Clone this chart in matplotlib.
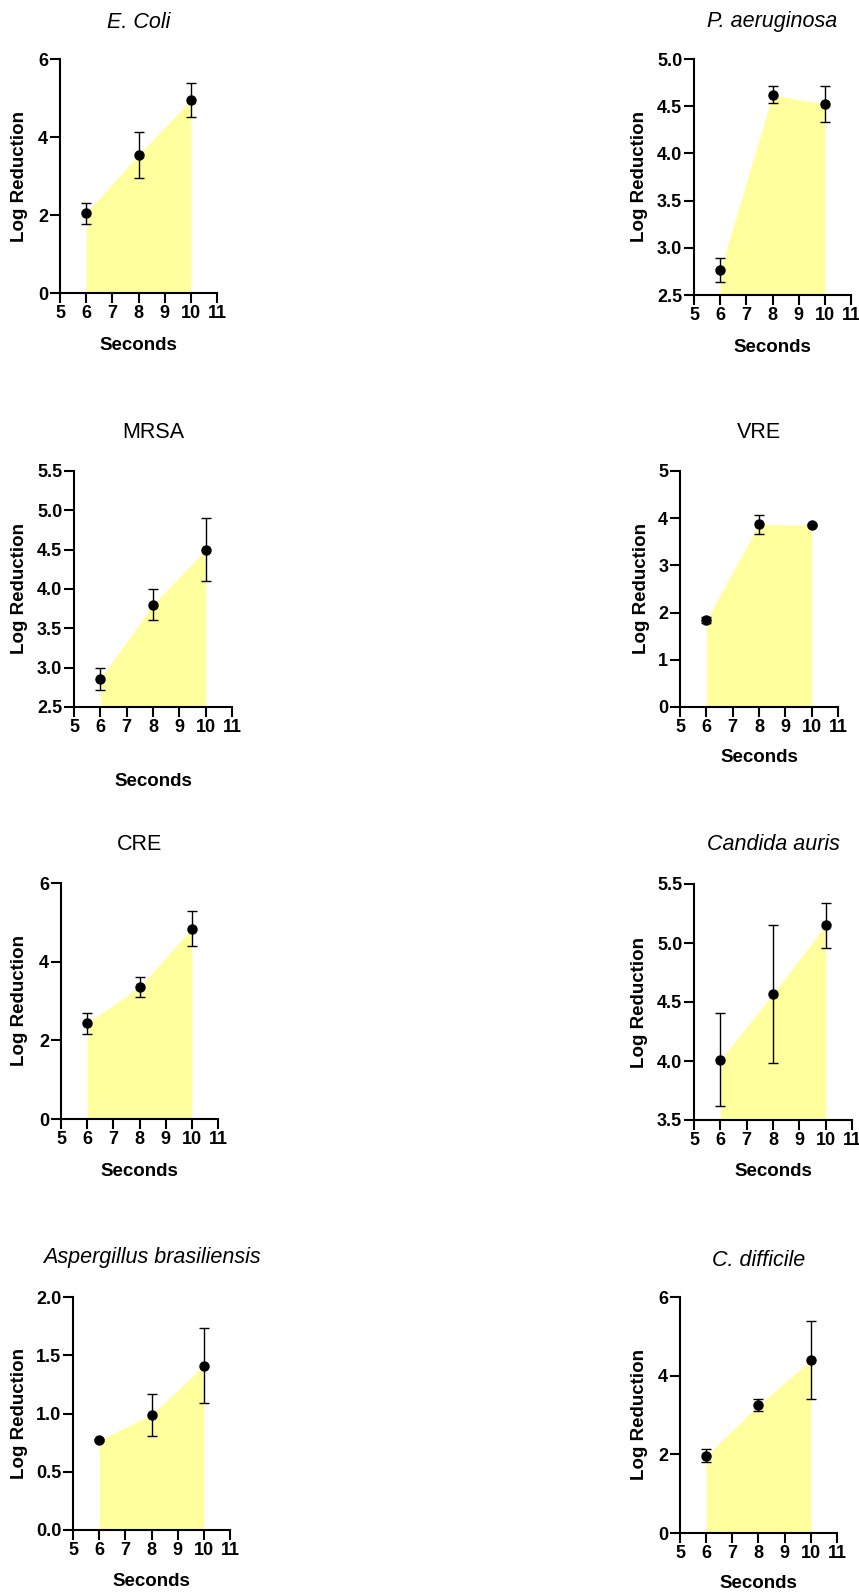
import matplotlib
matplotlib.use("Agg")
import matplotlib.pyplot as plt

plt.rcParams['font.family'] = ['Liberation Sans', 'DejaVu Sans']

# data
seconds = [6, 8, 10]
titles = ["E. Coli", "P. aeruginosa", "MRSA", "VRE",
          "CRE", "Candida auris", "Aspergillus brasiliensis", "C. difficile"]
italic = [True, True, False, False, False, True, True, True]

ecoli_mean = [2.05, 3.54, 4.95]
ecoli_err = [0.27, 0.58, 0.44]
paer_mean = [2.765, 4.62, 4.52]
paer_err = [0.125, 0.09, 0.19]
mrsa_mean = [2.86, 3.80, 4.50]
mrsa_err = [0.14, 0.195, 0.40]
vre_mean = [1.84, 3.87, 3.85]
vre_err = [0.07, 0.20, 0.02]
cre_mean = [2.43, 3.36, 4.84]
cre_err = [0.26, 0.25, 0.44]
cand_mean = [4.01, 4.57, 5.15]
cand_err = [0.395, 0.585, 0.19]
asp_mean = [0.77, 0.99, 1.41]
asp_err = [0.01, 0.18, 0.32]
cdiff_mean = [1.96, 3.25, 4.39]
cdiff_err = [0.165, 0.16, 0.99]

means = [ecoli_mean, paer_mean, mrsa_mean, vre_mean, cre_mean, cand_mean, asp_mean, cdiff_mean]
errs = [ecoli_err, paer_err, mrsa_err, vre_err, cre_err, cand_err, asp_err, cdiff_err]

ylims = [(0, 6), (2.5, 5.0), (2.5, 5.5), (0, 5), (0, 6), (3.5, 5.5), (0, 2.0), (0, 6)]
yticks = [[0, 2, 4, 6],
          [2.5, 3.0, 3.5, 4.0, 4.5, 5.0],
          [2.5, 3.0, 3.5, 4.0, 4.5, 5.0, 5.5],
          [0, 1, 2, 3, 4, 5],
          [0, 2, 4, 6],
          [3.5, 4.0, 4.5, 5.0, 5.5],
          [0.0, 0.5, 1.0, 1.5, 2.0],
          [0, 2, 4, 6]]
ytick_fmt = ["{:.0f}", "{:.1f}", "{:.1f}", "{:.0f}", "{:.0f}", "{:.1f}", "{:.1f}", "{:.0f}"]
xticks = [5, 6, 7, 8, 9, 10, 11]

W, H = 859, 1596
# axes boxes in pixels: left, right, top, bottom
boxes = [(60, 217, 59, 293), (694, 851, 59, 295),
         (74, 232, 471, 707), (680, 838, 471, 707),
         (61, 218, 883, 1119), (694, 852, 884, 1120),
         (73, 230, 1297, 1530), (680, 837, 1297, 1533)]
title_y = [22, 22, 433, 433, 845, 845, 1257, 1260]
xlabel_y = [345, 347, 782, 758, 1172, 1172, 1582, 1583]
ylabel_x = [20, 640, 20, 641, 20, 640, 20, 640]

fig = plt.figure(figsize=(W / 100, H / 100), dpi=100)

for i in range(8):
    l, r, t, b = boxes[i]
    ax = fig.add_axes([l / W, 1 - b / H, (r - l) / W, (b - t) / H])
    lo, hi = ylims[i]
    ax.fill_between(seconds, lo, means[i], color='#FFFF9E', lw=0, zorder=1)
    ax.errorbar(seconds, means[i], yerr=errs[i], fmt='o', color='black',
                ms=6.5, elinewidth=1, capsize=3.5, capthick=1, zorder=3)
    ax.set_xlim(5, 11)
    ax.set_ylim(lo, hi)
    ax.set_xticks(xticks)
    ax.set_yticks(yticks[i])
    ax.set_yticklabels([ytick_fmt[i].format(v) for v in yticks[i]])
    ax.spines['top'].set_visible(False)
    ax.spines['right'].set_visible(False)
    ax.spines['left'].set_linewidth(1.5)
    ax.spines['bottom'].set_linewidth(1.5)
    ax.tick_params(width=1.5, length=7, labelsize=13, pad=1.5)
    for lab in ax.get_xticklabels() + ax.get_yticklabels():
        lab.set_fontweight('bold')

    cx = (l + r) / 2 / W
    fig.text(cx, 1 - title_y[i] / H, titles[i], ha='center', va='center',
             fontsize=15.5, style='italic' if italic[i] else 'normal')
    fig.text(cx, 1 - xlabel_y[i] / H, "Seconds", ha='center', va='center',
             fontsize=13.5, fontweight='bold')
    fig.text(ylabel_x[i] / W, 1 - (t + b) / 2 / H, "Log Reduction", ha='center',
             va='center', rotation=90, fontsize=13.5, fontweight='bold')

fig.savefig("out.png", dpi=100)
